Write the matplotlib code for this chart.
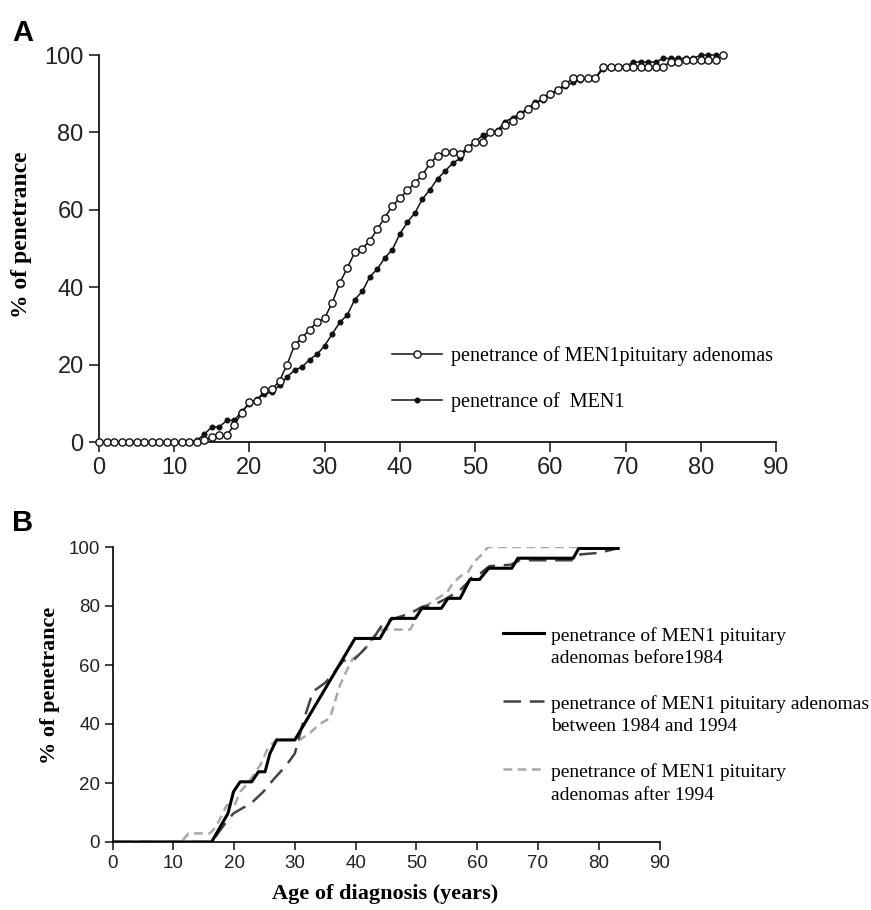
import matplotlib
matplotlib.use("Agg")
import matplotlib.pyplot as plt
from matplotlib.legend_handler import HandlerLine2D

plt.rcParams['font.family'] = ['Liberation Sans', 'DejaVu Sans']

# ---- panel A : penetrance by age (one point per year)
ages_pit = list(range(0, 84))
pen_pit = [0]*14 + [0.5, 1.2, 1.8, 1.8, 4.4, 7.6, 10.4, 10.7, 13.4, 13.6,
                    15.8, 20, 25, 27, 29, 31, 32, 36, 41, 45,
                    49, 50, 52, 55, 58, 61, 63, 65, 67, 69,
                    72, 74, 75, 75, 74.5, 76, 77.6, 77.6, 80, 80,
                    82, 83, 84.5, 86, 87, 89, 90, 91, 92.4, 94,
                    94, 94, 94, 97, 97, 97, 97, 97, 97, 97,
                    97, 97, 98.3, 98.3, 98.7, 98.7, 98.7, 98.7, 98.7, 100]

ages_men = list(range(0, 83))
pen_men = [0]*13 + [0.4, 2, 3.9, 3.9, 5.6, 5.6, 8, 9.8, 11, 12.5,
                    12.8, 14.7, 16.8, 18.6, 19.4, 21.3, 22.7, 24.9, 27.9, 30.9,
                    32.8, 36.8, 38.9, 42.7, 44.7, 47.6, 49.7, 53.8, 56.8, 59.2,
                    62.8, 65.2, 68, 70, 72, 73.3, 75.9, 77.6, 79.2, 80,
                    80.6, 82.8, 83.8, 84.9, 86.2, 87.8, 88.4, 89.7, 91, 92,
                    92.9, 93.5, 94, 94, 96.4, 96.7, 97, 97, 98.2, 98.2,
                    98.2, 98.2, 99.1, 99.1, 99.1, 99.1, 99.1, 100, 100, 100]

# ---- panel B : by period of diagnosis
x_before = [0, 16.3, 19, 19.9, 21, 22.9, 24, 25.1, 25.9, 27, 30, 39.9, 44, 45.9,
            49.8, 50.9, 54.1, 55.2, 57.2, 58.8, 60.4, 61.9, 65.7, 66.7, 75.8,
            76.7, 83.2]
y_before = [0, 0, 9.7, 17, 20.4, 20.4, 23.8, 23.8, 30, 34.6, 34.6, 69, 69, 75.8,
            75.8, 79.2, 79.2, 82.6, 82.6, 89, 89, 92.8, 92.8, 96.2, 96.2,
            99.5, 99.5]

x_between = [0, 16.3, 18.8, 19.9, 22.9, 24.8, 26.4, 28.6, 30, 31.4, 33, 35, 36.3,
             38, 39.6, 41.3, 42.9, 44.5, 46, 49, 51, 53, 55, 57.2, 58.3, 59,
             60.5, 62, 65.5, 67, 76, 77, 80, 83]
y_between = [0, 0, 7, 9.7, 13.3, 17, 21, 26, 30, 41, 51, 54, 57,
             61.5, 61.5, 65, 69, 74, 75.5, 77.5, 79.8, 80.5, 82.6, 85.4, 87.7, 89.5,
             91, 93.5, 94, 95.5, 95.5, 97.5, 98, 99.5]

x_after = [0, 11.3, 12.5, 16, 17, 18.8, 20.1, 21, 22.3, 24.3, 25.6, 27, 30.8, 32.5,
           34.1, 35.8, 36.5, 37.4, 38.5, 39.5, 40.7, 41.8, 42.9, 44.3, 49, 50.8,
           53, 55, 56, 57.2, 58.5, 59.5, 60.4, 61.8, 83]
y_after = [0, 0, 2.9, 2.9, 5, 12.5, 12.5, 17, 20, 26, 32, 34.6, 34.6, 37,
           40, 42, 47, 53, 58, 62, 64, 66, 69.6, 72, 72, 79,
           82, 84.5, 87.7, 90, 91.5, 95, 96.7, 100, 100]

ticks_x = list(range(0, 91, 10))
ticks_y = list(range(0, 101, 20))


class FirstLineHandler(HandlerLine2D):
    # put the legend line next to the first line of a two-line label
    def __init__(self, shift, **kw):
        super().__init__(**kw)
        self.shift = shift

    def create_artists(self, legend, orig_handle, xdescent, ydescent,
                       width, height, fontsize, trans):
        arts = super().create_artists(legend, orig_handle, xdescent, ydescent,
                                      width, height, fontsize, trans)
        for a in arts:
            a.set_ydata([y + self.shift * fontsize for y in a.get_ydata()])
        return arts


W, H = 871, 910
fig = plt.figure(figsize=(W/100, H/100), dpi=100)

def px_axes(x0, x1, y0, y1):
    return fig.add_axes([x0/W, 1 - y1/H, (x1 - x0)/W, (y1 - y0)/H])

def style(ax, tsize, tlen, pad):
    for s in ['top', 'right']:
        ax.spines[s].set_visible(False)
    for s in ['left', 'bottom']:
        ax.spines[s].set_linewidth(1.2)
    ax.set_xlim(0, 90)
    ax.set_ylim(0, 100)
    ax.set_xticks(ticks_x)
    ax.set_yticks(ticks_y)
    ax.tick_params(direction='out', length=tlen, width=1.2, labelsize=tsize,
                   pad=pad, colors='#222222')

serif = ['Liberation Serif', 'DejaVu Serif']

# ---------------- A
axA = px_axes(99, 776, 55, 442)
style(axA, 17, 7, 4)
axA.plot(ages_men, pen_men, '-', color='#111111', lw=1.1, marker='o', ms=3.3,
         mfc='#111111', mec='#111111', label='penetrance of  MEN1', clip_on=False, zorder=3)
axA.plot(ages_pit, pen_pit, '-', color='#111111', lw=1.1, marker='o', ms=5.2,
         mfc='white', mec='#111111', mew=1.0,
         label='penetrance of MEN1pituitary adenomas', clip_on=False, zorder=4)
h, l = axA.get_legend_handles_labels()
fig.legend(h[::-1], l[::-1], loc='upper left', bbox_to_anchor=(392/W, 1 - 346/H),
           frameon=False, numpoints=1, handlelength=2.5, handletextpad=0.45,
           labelspacing=1.3, borderpad=0, borderaxespad=0,
           prop={'family': serif, 'size': 14.5})

fig.text(12/W, 1 - 33/H, 'A', fontsize=21, fontweight='bold', va='center', ha='left')
fig.text(22/W, 1 - 235/H, '% of penetrance', rotation=90, fontsize=17,
         fontweight='bold', family=serif, va='center', ha='center')

# ---------------- B
axB = px_axes(112.5, 659.5, 547, 842)
style(axB, 13.5, 6, 3)
axB.plot(x_after, y_after, color='#a8a8a8', lw=1.8, dashes=(3.5, 2.2),
         label='penetrance of MEN1 pituitary\nadenomas after 1994', zorder=2)
axB.plot(x_between, y_between, color='#444444', lw=1.8, dashes=(7, 3.5),
         label='penetrance of MEN1 pituitary adenomas\nbetween 1984 and 1994', zorder=3)
axB.plot(x_before, y_before, color='#000000', lw=2.2,
         label='penetrance of MEN1 pituitary\nadenomas before1984', zorder=4)
h, l = axB.get_legend_handles_labels()
hm = {hh: FirstLineHandler(0.72) for hh in h}
legB = fig.legend(h[::-1], l[::-1], loc='upper left', bbox_to_anchor=(503/W, 1 - 627/H),
                  frameon=False, handlelength=2.1, handletextpad=0.35, labelspacing=1.45,
                  borderpad=0, borderaxespad=0, handler_map=hm,
                  prop={'family': serif, 'size': 14})
for t in legB.get_texts():
    t.set_linespacing(1.4)

fig.text(12/W, 1 - 523/H, 'B', fontsize=21, fontweight='bold', va='center', ha='left')
fig.text(50/W, 1 - 685/H, '% of penetrance', rotation=90, fontsize=16,
         fontweight='bold', family=serif, va='center', ha='center')
fig.text(385/W, 1 - 894/H, 'Age of diagnosis (years)', fontsize=16,
         fontweight='bold', family=serif, va='center', ha='center')

fig.savefig('out.png', dpi=100)
